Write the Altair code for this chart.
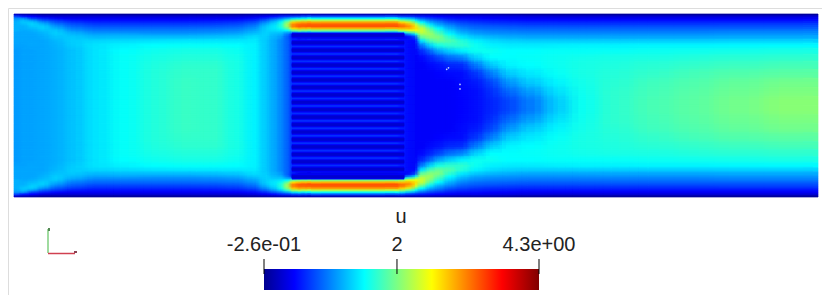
import altair as alt
import pandas as pd

# Mesh coordinates of the channel (804 long, 182 high, y measured from the top wall)
x_edges = [0, 6, 14, 24, 36, 51, 71, 96, 126, 156, 186, 211, 231, 246, 256, 264, 270, 276, 282, 292,
           386, 392, 398, 404, 412, 420, 430, 442, 455, 470, 486, 505, 530, 555, 585, 620, 660, 700, 750, 804]
y_edges_top = [0, 1.5, 3.5, 5.5, 7.5, 9.5, 11.5, 13.5, 15.5, 17.5, 19.5, 21.5, 25, 29, 34, 40, 47, 55, 64, 73, 82, 91]

# u read per column, from the top wall to the centre line (the field is mirror-symmetric)
u_columns = [
 [0.0, .55, .9, 1.0, 1.05, 1.05, 1.05, 1.05, 1.05, 1.0, 1.0, 1.0, 1.0, .98, .95, .95, .95, .95, .95, .95, .95],
 [-.1, .35, .9, 1.1, 1.15, 1.1, 1.05, 1.05, 1.02, 1.0, 1.0, 1.0, 1.0, .98, .98, .98, .98, .98, .98, .98, .98],
 [-.15, .25, .55, .95, 1.15, 1.2, 1.15, 1.1, 1.05, 1.02, 1.0, 1.0, 1.0, 1.0, .98, .98, .98, .98, .98, .98, .98],
 [-.2, .1, .4, .65, .92, 1.08, 1.18, 1.18, 1.13, 1.08, 1.06, 1.03, 1.0, 1.0, 1.0, 1.0, 1.0, 1.0, 1.0, 1.0, 1.0],
 [-.2, .05, .28, .48, .65, .8, .95, 1.05, 1.15, 1.18, 1.18, 1.13, 1.08, 1.06, 1.04, 1.04, 1.04, 1.04, 1.04, 1.04, 1.04],
 [-.2, .05, .2, .35, .5, .62, .72, .82, .92, 1.03, 1.08, 1.15, 1.18, 1.17, 1.13, 1.13, 1.13, 1.13, 1.13, 1.13, 1.13],
 [-.2, .05, .2, .3, .42, .52, .62, .72, .8, .9, .98, 1.08, 1.22, 1.28, 1.28, 1.28, 1.28, 1.28, 1.28, 1.28, 1.28],
 [-.2, .05, .2, .3, .42, .52, .62, .72, .8, .9, 1.0, 1.1, 1.25, 1.35, 1.4, 1.42, 1.42, 1.42, 1.42, 1.42, 1.42],
 [-.2, .05, .2, .3, .42, .52, .62, .72, .8, .88, .97, 1.1, 1.28, 1.4, 1.46, 1.5, 1.53, 1.55, 1.55, 1.55, 1.55],
 [-.2, .05, .2, .3, .42, .52, .62, .72, .8, .88, .97, 1.1, 1.3, 1.42, 1.5, 1.55, 1.6, 1.63, 1.65, 1.65, 1.65],
 [-.2, .05, .2, .32, .44, .54, .64, .74, .82, .9, 1.0, 1.12, 1.3, 1.42, 1.5, 1.55, 1.6, 1.62, 1.62, 1.62, 1.62],
 [-.2, .05, .22, .35, .48, .58, .68, .78, .86, .95, 1.03, 1.15, 1.3, 1.4, 1.45, 1.48, 1.5, 1.5, 1.5, 1.5, 1.5],
 [-.18, .1, .3, .45, .6, .72, .82, .92, 1.0, 1.08, 1.15, 1.25, 1.32, 1.35, 1.35, 1.35, 1.35, 1.35, 1.35, 1.35, 1.35],
 [-.15, .2, .45, .7, .9, 1.05, 1.15, 1.2, 1.2, 1.2, 1.2, 1.18, 1.15, 1.15, 1.15, 1.15, 1.15, 1.15, 1.15, 1.15, 1.15],
 [-.12, .3, .65, .95, 1.15, 1.25, 1.3, 1.3, 1.25, 1.15, 1.1, 1.05, 1.0, 1.0, 1.0, 1.0, 1.0, 1.0, 1.0, 1.0, 1.0],
 [-.1, .4, .8, 1.2, 1.45, 1.55, 1.55, 1.45, 1.3, 1.15, 1.05, .95, .85, .85, .85, .85, .85, .85, .85, .85, .85],
 [-.1, .45, 1.0, 1.6, 1.95, 2.1, 2.05, 1.8, 1.4, 1.0, .8, .7, .7, .7, .7, .7, .7, .7, .7, .7, .7],
 [-.1, .5, 1.2, 2.0, 2.7, 3.0, 3.0, 2.6, 1.8, .9, .4, .4, .45, .45, .45, .45, .45, .45, .45, .45, .45],
 [-.1, .55, 1.3, 2.15, 2.9, 3.2, 3.25, 2.8, 2.0, 1.05, .35, .15, .45, .45, .45, .45, .45, .45, .45, .45, .45],
 [-.1, .6, 1.4, 2.2, 2.95, 3.25, 3.3, 2.85, 2.0, 1.1, .35, .15, .45, .45, .45, .45, .45, .45, .45, .45, .45],
 [-.1, .5, 1.2, 1.9, 2.6, 3.0, 3.1, 2.8, 2.3, 1.4, .6, .25, .32, .32, .32, .32, .32, .32, .32, .32, .32],
 [-.1, .45, 1.05, 1.7, 2.3, 2.75, 2.95, 2.85, 2.5, 1.8, 1.0, .35, .25, .25, .25, .25, .25, .25, .25, .25, .25],
 [-.1, .4, .9, 1.4, 1.9, 2.35, 2.6, 2.65, 2.5, 2.0, 1.4, .6, .25, .22, .22, .22, .22, .22, .22, .22, .22],
 [-.1, .35, .7, 1.05, 1.4, 1.75, 2.05, 2.25, 2.3, 2.25, 2.1, 1.85, 1.3, .8, .45, .28, .22, .22, .22, .22, .22],
 [-.1, .3, .55, .8, 1.05, 1.3, 1.55, 1.8, 1.95, 2.05, 2.1, 2.0, 1.7, 1.2, .7, .4, .28, .22, .22, .22, .22],
 [-.12, .25, .45, .65, .85, 1.0, 1.2, 1.4, 1.55, 1.7, 1.8, 1.95, 1.85, 1.5, 1.0, .55, .32, .25, .22, .22, .22],
 [-.15, .2, .35, .5, .65, .8, .95, 1.05, 1.2, 1.3, 1.4, 1.6, 1.75, 1.6, 1.2, .75, .42, .28, .22, .22, .22],
 [-.15, .15, .3, .42, .55, .65, .75, .85, .95, 1.05, 1.15, 1.3, 1.55, 1.6, 1.35, .85, .45, .3, .28, .26, .25],
 [-.15, .15, .28, .38, .48, .58, .68, .75, .85, .92, 1.0, 1.15, 1.35, 1.45, 1.45, 1.2, .8, .48, .35, .3, .3],
 [-.15, .12, .25, .35, .45, .55, .65, .72, .8, .88, .95, 1.08, 1.25, 1.35, 1.45, 1.4, 1.15, .8, .55, .45, .4],
 [-.18, .1, .22, .33, .43, .52, .62, .7, .78, .85, .92, 1.03, 1.2, 1.32, 1.4, 1.4, 1.35, 1.15, .9, .7, .55],
 [-.2, .08, .2, .3, .42, .5, .6, .68, .76, .83, .9, 1.0, 1.18, 1.32, 1.4, 1.42, 1.4, 1.3, 1.15, .95, .8],
 [-.2, .05, .2, .3, .42, .5, .6, .68, .76, .83, .9, 1.0, 1.18, 1.33, 1.42, 1.45, 1.45, 1.42, 1.35, 1.25, 1.15],
 [-.2, .05, .2, .3, .42, .5, .6, .68, .76, .83, .9, 1.0, 1.18, 1.35, 1.42, 1.48, 1.5, 1.5, 1.48, 1.46, 1.45],
 [-.2, .05, .2, .3, .42, .5, .6, .68, .76, .83, .9, 1.0, 1.18, 1.35, 1.43, 1.5, 1.53, 1.56, 1.58, 1.6, 1.6],
 [-.2, .05, .2, .3, .42, .5, .6, .68, .76, .83, .9, 1.0, 1.18, 1.36, 1.45, 1.52, 1.58, 1.63, 1.68, 1.7, 1.72],
 [-.2, .05, .2, .3, .42, .5, .6, .68, .76, .83, .9, 1.0, 1.18, 1.36, 1.46, 1.55, 1.62, 1.7, 1.75, 1.78, 1.8],
 [-.2, .05, .2, .3, .42, .52, .6, .68, .78, .85, .92, 1.02, 1.2, 1.37, 1.48, 1.58, 1.67, 1.76, 1.83, 1.87, 1.9],
 [-.2, .05, .2, .3, .42, .52, .6, .68, .78, .85, .92, 1.02, 1.2, 1.38, 1.5, 1.6, 1.7, 1.8, 1.9, 1.95, 2.0],
]

# Dark stripes in the porous block: centre of each stripe, in mesh units from the top wall
stripe_centres = [21.2, 28.6, 36, 43.4, 50.8, 58.2, 65.6, 73, 80.4, 87.8,
                  95.2, 102.6, 110, 117.4, 124.8, 132.2, 139.6, 147, 154.4, 161.8]
stripe_x = [278, 390]
stripe_bands = [(2.4, 0.22), (1.3, 0.03)]   # half height, u

# Small numerical specks behind the block
speck_x = [432.7, 434.5, 446, 446]
speck_y = [55, 53.5, 70, 74.5]

# Colour map
u_stops = [-0.26, 0.24, 1.40, 2.52, 3.68, 4.3]
jet = ["#00008f", "#0000ff", "#00ffff", "#ffff00", "#ff0000", "#800000"]
bar_offsets = [0, 0.11, 0.365, 0.61, 0.865, 1]

# Colour bar text
bar_title = "u"
bar_ticks = [-0.26, 1.945, 4.3]
bar_labels = ["-2.6e-01", "2", "4.3e+00"]

# Softening passes: each pass redraws the same cells displaced by a fraction of the cell size
soft_passes = [(-0.375, 0.125, 1 / 2), (-0.125, -0.375, 1 / 3), (0.125, 0.375, 1 / 4), (0.375, -0.125, 1 / 5)]

y_edges = y_edges_top + [182 - v for v in reversed(y_edges_top[:-1])]
rows = []
for i, col in enumerate(u_columns):
    full = list(col) + list(reversed(col))
    assert len(full) == len(y_edges) - 1
    for j, u in enumerate(full):
        rows.append(dict(x=x_edges[i], x2=x_edges[i + 1], y=y_edges[j], y2=y_edges[j + 1], u=u))
cells = pd.DataFrame(rows)


def shifted(fx, fy):
    d = cells.copy()
    dx = (d.x2 - d.x).clip(upper=40) * fx
    dy = (d.y2 - d.y) * fy
    d["x"] = (d.x + dx).clip(0, 804)
    d["x2"] = (d.x2 + dx).clip(0, 804)
    d["y"] = (d.y + dy).clip(0, 182)
    d["y2"] = (d.y2 + dy).clip(0, 182)
    return d


stripe_rows = []
for half, u in stripe_bands:
    for c in stripe_centres:
        stripe_rows.append(dict(x=stripe_x[0], x2=stripe_x[1], y=c - half, y2=c + half, u=u))
stripes = pd.DataFrame(stripe_rows)
specks = pd.DataFrame({"x": speck_x, "y": speck_y})
ticks = pd.DataFrame({"t": bar_ticks, "label": bar_labels})

sx = alt.Scale(domain=[0, 804], range=[6, 810])
sy = alt.Scale(domain=[0, 182], range=[6, 189])
sc = alt.Scale(domain=u_stops, range=jet, interpolate="rgb", clamp=True)
sbar = alt.Scale(domain=[-0.26, 4.3], range=[256, 531])


def field(df, opacity=1.0, stroked=True):
    enc = dict(
        x=alt.X("x:Q", scale=sx, axis=None),
        x2="x2:Q",
        y=alt.Y("y:Q", scale=sy, axis=None),
        y2="y2:Q",
        color=alt.Color("u:Q", scale=sc, legend=None),
    )
    if stroked:
        enc["stroke"] = alt.Stroke("u:Q", scale=sc, legend=None)
        return alt.Chart(df).mark_rect(strokeWidth=0.7, opacity=opacity).encode(**enc)
    return alt.Chart(df).mark_rect(opacity=opacity).encode(**enc)


speck_layer = alt.Chart(specks).mark_point(filled=True, size=3, color="#cfe4ff", opacity=0.9).encode(
    x=alt.X("x:Q", scale=sx, axis=None),
    y=alt.Y("y:Q", scale=sy, axis=None),
)

gradient = alt.Gradient(
    gradient="linear", x1=0, x2=1, y1=0, y2=0,
    stops=[alt.GradientStop(offset=o, color=c) for o, c in zip(bar_offsets, jet)],
)
bar = alt.Chart(ticks).mark_rect(fill=gradient).encode(
    x=alt.value(256), x2=alt.value(531), y=alt.value(261), y2=alt.value(282)
)
tick_rules = alt.Chart(ticks).mark_rule(color="#000000", strokeWidth=1).encode(
    x=alt.X("t:Q", scale=sbar, axis=None), y=alt.value(251), y2=alt.value(266)
)
tick_text = alt.Chart(ticks).mark_text(
    font="Liberation Sans", fontSize=20, color="#222222", baseline="alphabetic"
).encode(
    x=alt.X("t:Q", scale=sbar, axis=None), y=alt.value(243), text="label:N"
)
title_text = alt.Chart(pd.DataFrame({"t": [bar_title]})).mark_text(
    font="Liberation Sans", fontSize=20, color="#222222", baseline="alphabetic"
).encode(x=alt.value(393), y=alt.value(215), text="t:N")

# Orientation triad
tri = pd.DataFrame({"a": [0]})
green = alt.Chart(tri).mark_rule(color="#77cc77", strokeWidth=1.4).encode(
    x=alt.value(40), y=alt.value(221), y2=alt.value(245))
red = alt.Chart(tri).mark_rule(color="#d04050", strokeWidth=1.5).encode(
    x=alt.value(40), x2=alt.value(67), y=alt.value(245.5))
tip_g = alt.Chart(tri).mark_rule(color="#558855", strokeWidth=2).encode(
    x=alt.value(41), y=alt.value(220), y2=alt.value(223))
tip_r = alt.Chart(tri).mark_rule(color="#884455", strokeWidth=2).encode(
    x=alt.value(66), x2=alt.value(69), y=alt.value(244))

soft_layers = [field(shifted(fx, fy), opacity=o, stroked=False) for fx, fy, o in soft_passes]
field_group = alt.layer(field(cells), *soft_layers, field(stripes), speck_layer)
bar_group = alt.layer(bar, tick_rules, tick_text, title_text, green, red, tip_g, tip_r)

chart = alt.layer(field_group, bar_group).resolve_scale(x="independent", y="independent").properties(
    width=814, height=287, padding=0
).configure_view(stroke=None).configure(background="#ffffff")

chart.save("out.html", embed_options={"renderer": "svg", "actions": False})
